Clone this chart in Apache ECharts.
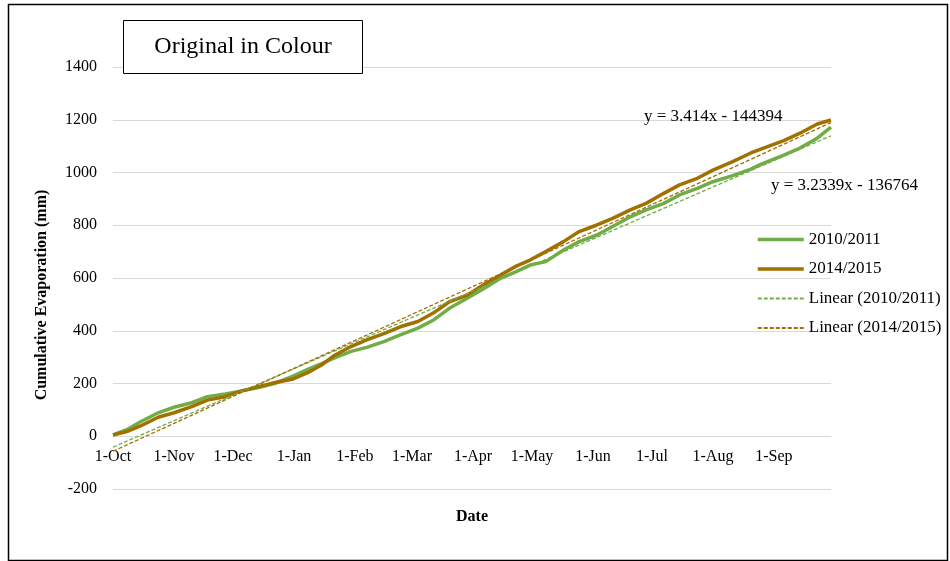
<!DOCTYPE html>
<html>
<head>
<meta charset="utf-8">
<script src="https://cdn.jsdelivr.net/npm/echarts@6/dist/echarts.min.js"></script>
<style>
  html, body { margin: 0; padding: 0; background: #fff; }
  #chart { width: 950px; height: 561px; }
</style>
</head>
<body>
<div id="chart"></div>
<script>
// Day offsets from 1 October for each reading
const days = [0, 7, 14, 23, 31, 40, 48, 57, 65, 74, 82, 91, 99, 106, 112, 121, 129, 138, 146, 155,
  163, 171, 180, 188, 197, 205, 212, 220, 229, 237, 246, 254, 263, 271, 280, 288, 297, 305, 315, 324,
  329, 341, 349, 358, 365];

// Cumulative evaporation (mm)
const evap2010 = [5, 25, 55, 89, 110, 127, 150, 160, 171, 185, 200, 226, 254, 275, 295, 322, 337, 360, 384, 410,
  441, 485, 523, 557, 599, 624, 649, 662, 706, 738, 763, 795, 832, 858, 883, 915, 940, 965, 988, 1012,
  1030, 1066, 1092, 1130, 1172];
const evap2014 = [5, 18, 39, 72, 89, 112, 137, 150, 171, 188, 203, 216, 241, 270, 304, 340, 365, 390, 415, 435,
  468, 510, 535, 573, 611, 645, 668, 700, 738, 776, 801, 826, 858, 883, 921, 953, 978, 1009, 1041, 1073,
  1088, 1121, 1148, 1184, 1199];

// Month tick positions (days from 1 October) and their labels
const monthStarts = [0, 31, 61, 92, 123, 152, 183, 213, 244, 274, 305, 336];
const monthLabels = ['1-Oct', '1-Nov', '1-Dec', '1-Jan', '1-Feb', '1-Mar', '1-Apr', '1-May', '1-Jun', '1-Jul', '1-Aug', '1-Sep'];

// Linear trend equations (x = spreadsheet date serial)
const dateSerialStart = 42278;
const trend2010 = { slope: 3.2339, intercept: -136764 };
const trend2014 = { slope: 3.414, intercept: -144394 };

const yTicks = { min: -200, max: 1400, interval: 200 };

const FONT = '"Liberation Serif", "Times New Roman", serif';
const GREEN = '#70AD47';
const BROWN = '#A07000';

// grid geometry
const GRID = { left: 113, right: 119, top: 67, bottom: 72 };
const plotHeight = 561 - GRID.top - GRID.bottom;
// distance from the bottom of the plot to the zero line, so the date labels sit under y = 0
const zeroLineOffset = plotHeight * (0 - yTicks.min) / (yTicks.max - yTicks.min);

function pairs(xs, ys) { return xs.map((x, i) => [x, ys[i]]); }
function trendLine(t) {
  const ends = [days[0], days[days.length - 1]];
  return ends.map(d => [d, t.slope * (dateSerialStart + d) + t.intercept]);
}
function eqText(t) {
  return 'y = ' + t.slope + 'x - ' + Math.abs(t.intercept);
}

const chart = echarts.init(document.getElementById('chart'), null, { renderer: 'canvas' });

chart.setOption({
  animation: false,
  backgroundColor: '#fff',
  textStyle: { fontFamily: FONT, color: '#000' },
  grid: Object.assign({ containLabel: false, outerBoundsMode: 'none' }, GRID),
  xAxis: {
    type: 'value',
    min: 0,
    max: 365,
    position: 'bottom',
    offset: -zeroLineOffset,
    name: 'Date',
    nameLocation: 'middle',
    nameGap: 73,
    nameTextStyle: { fontFamily: FONT, fontSize: 16, fontWeight: 'bold', color: '#000' },
    axisLine: { show: true, onZero: false, lineStyle: { color: '#d9d9d9', width: 1 } },
    axisTick: { show: false },
    splitLine: { show: false },
    axisLabel: {
      customValues: monthStarts,
      formatter: v => monthLabels[monthStarts.indexOf(v)],
      fontFamily: FONT, fontSize: 16, color: '#000', margin: 13
    }
  },
  yAxis: {
    type: 'value',
    min: yTicks.min,
    max: yTicks.max,
    interval: yTicks.interval,
    axisLine: { show: false },
    axisTick: { show: false },
    splitLine: { show: true, lineStyle: { color: '#d9d9d9', width: 1 } },
    axisLabel: { fontFamily: FONT, fontSize: 16, color: '#000', margin: 16, formatter: v => String(v) }
  },
  legend: {
    orient: 'vertical',
    left: 756,
    top: 231,
    padding: 0,
    itemWidth: 46,
    itemHeight: 14,
    itemGap: 12.5,
    itemStyle: { opacity: 0 },
    textStyle: { fontFamily: FONT, fontSize: 17, color: '#000' },
    data: [
      { name: '2010/2011', lineStyle: { width: 3.5 } },
      { name: '2014/2015', lineStyle: { width: 3.5 } },
      { name: 'Linear (2010/2011)' },
      { name: 'Linear (2014/2015)' }
    ]
  },
  series: [
    {
      name: '2010/2011', type: 'line', symbol: 'none', smooth: false,
      data: pairs(days, evap2010),
      lineStyle: { color: GREEN, width: 3.5 }, itemStyle: { color: GREEN }, z: 2
    },
    {
      name: '2014/2015', type: 'line', symbol: 'none', smooth: false,
      data: pairs(days, evap2014),
      lineStyle: { color: BROWN, width: 3.5 }, itemStyle: { color: BROWN }, z: 3
    },
    {
      name: 'Linear (2010/2011)', type: 'line', symbol: 'none',
      data: trendLine(trend2010),
      lineStyle: { color: GREEN, width: 1.3, type: [4, 2] }, itemStyle: { color: GREEN }, z: 4
    },
    {
      name: 'Linear (2014/2015)', type: 'line', symbol: 'none',
      data: trendLine(trend2014),
      lineStyle: { color: BROWN, width: 1.3, type: [4, 2] }, itemStyle: { color: BROWN }, z: 5
    }
  ],
  graphic: [
    // outer frame
    { type: 'rect', shape: { x: 8.5, y: 4.5, width: 939, height: 556 }, style: { fill: null, stroke: '#000', lineWidth: 1.5 }, silent: true },
    // title box
    { type: 'rect', shape: { x: 123.5, y: 20.5, width: 239, height: 53 }, style: { fill: '#fff', stroke: '#000', lineWidth: 1 }, z: 10 },
    { type: 'text', x: 243, y: 47, z: 11, style: { text: 'Original in Colour', font: '24px ' + FONT, fill: '#000', align: 'center', verticalAlign: 'middle' } },
    // y axis title
    { type: 'text', x: 42, y: 295, rotation: Math.PI / 2, style: { text: 'Cumulative Evaporation (mm)', font: 'bold 16px ' + FONT, fill: '#000', align: 'center', verticalAlign: 'middle' } },
    // trend equations
    { type: 'text', x: 644, y: 117, z: 12, style: { text: eqText(trend2014), font: '17px ' + FONT, fill: '#000', align: 'left', verticalAlign: 'middle' } },
    { type: 'text', x: 771, y: 186, z: 12, style: { text: eqText(trend2010), font: '17px ' + FONT, fill: '#000', align: 'left', verticalAlign: 'middle' } }
  ]
});
</script>
</body>
</html>
